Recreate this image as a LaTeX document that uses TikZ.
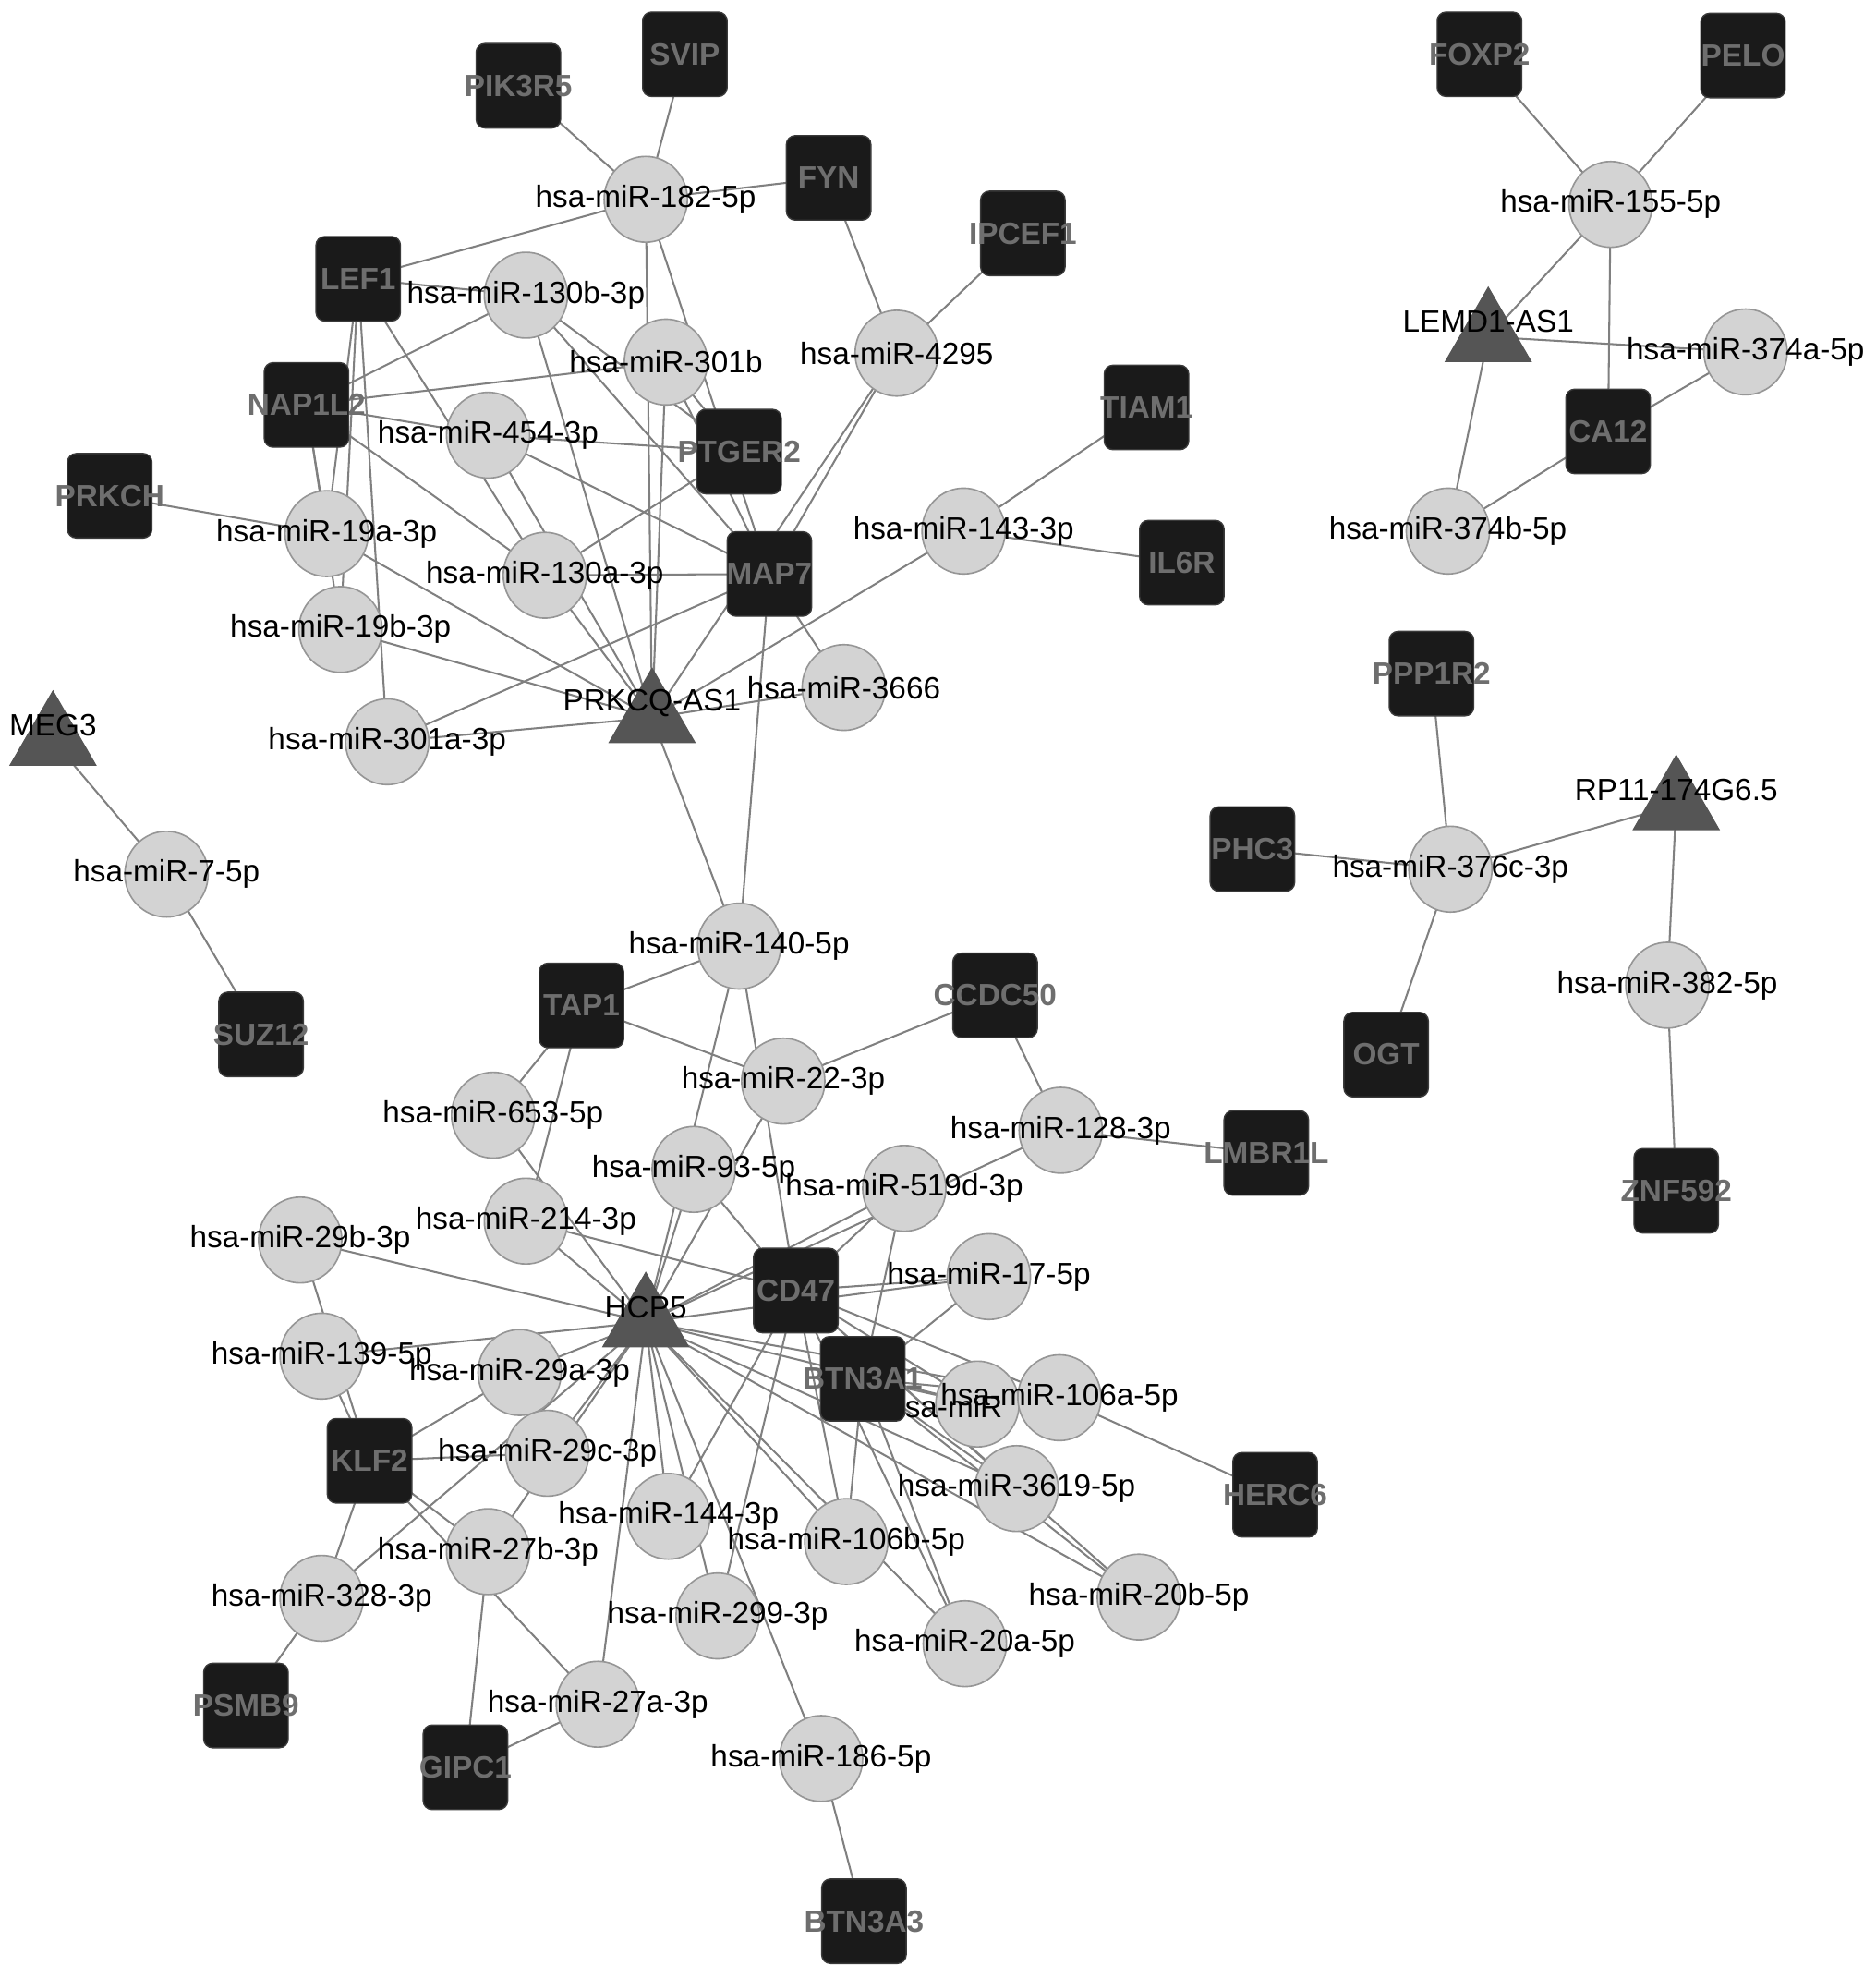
\documentclass[tikz,border=0pt]{standalone}
\usepackage{fontspec}
\setmainfont{Liberation Sans}
\usetikzlibrary{shapes.geometric}
\pgfdeclarelayer{bg}
\pgfsetlayers{bg,main}
\newcommand\lblfont{\fontsize{12.2}{14}\selectfont}
\definecolor{edgec}{HTML}{808080}
\definecolor{circf}{HTML}{D3D3D3}
\definecolor{circd}{HTML}{969696}
\definecolor{sqf}{HTML}{1A1A1A}
\definecolor{sqd}{HTML}{3A3A3A}
\definecolor{sqt}{HTML}{6E6E6E}
\definecolor{trif}{HTML}{555555}
\begin{document}
\begin{tikzpicture}[x=0.5pt,y=-0.5pt,
  circ/.style={ellipse,fill=circf,draw=circd,line width=0.6pt,minimum width=33pt,minimum height=34pt,inner sep=0pt},
  mir/.style={circ,label={[font=\lblfont,text=black,inner sep=0pt]center:#1}},
  gene/.style={rectangle,rounded corners=3.5pt,fill=sqf,draw=sqd,line width=0.5pt,minimum width=33.5pt,minimum height=33.5pt,inner sep=0pt,label={[font=\lblfont\bfseries,text=sqt,inner sep=0pt]center:#1}},
  lnc/.style={regular polygon,regular polygon sides=3,minimum size=39.3pt,inner sep=0pt,fill=trif,draw=trif,label={[font=\lblfont,text=black,inner sep=0pt,yshift=6pt]center:#1}},
  link/.style={draw=edgec,line width=0.75pt}]
\begin{pgfonlayer}{bg}
\fill[white] (0,0) rectangle (1487,1568);
\end{pgfonlayer}
\useasboundingbox (0,0) rectangle (1487,1568);

% lncRNAs
\node[lnc=PRKCQ-AS1] (prkcq) at (517,569) {};
\node[lnc=MEG3] (meg3) at (42,587) {};
\node[lnc=HCP5] (hcp5) at (512,1048) {};
\node[lnc=LEMD1-AS1] (lemd1) at (1180,267) {};
\node[lnc=RP11-174G6.5] (rp11) at (1329,638) {};

% hidden miRNA (drawn first)
\node[circ,label={[font=\lblfont,text=black,inner sep=0pt,xshift=-12.8pt,yshift=-1pt]center:hsa-miR}] (mhid) at (775,1113) {};

% miRNAs
\node[mir=hsa-miR-182-5p] (m182) at (512,158) {};
\node[mir=hsa-miR-130b-3p] (m130b) at (417,234) {};
\node[mir=hsa-miR-301b] (m301b) at (528,287) {};
\node[mir=hsa-miR-4295] (m4295) at (711,280) {};
\node[mir=hsa-miR-454-3p] (m454) at (387,345) {};
\node[mir=hsa-miR-19a-3p] (m19a) at (259,423) {};
\node[mir=hsa-miR-130a-3p] (m130a) at (432,456) {};
\node[mir=hsa-miR-143-3p] (m143) at (764,421) {};
\node[mir=hsa-miR-19b-3p] (m19b) at (270,499) {};
\node[mir=hsa-miR-3666] (m3666) at (669,545) {};
\node[mir=hsa-miR-301a-3p] (m301a) at (307,588) {};
\node[mir=hsa-miR-7-5p] (m7) at (132,693) {};
\node[mir=hsa-miR-140-5p] (m140) at (586,750) {};
\node[mir=hsa-miR-22-3p] (m22) at (621,857) {};
\node[mir=hsa-miR-653-5p] (m653) at (391,884) {};
\node[mir=hsa-miR-128-3p] (m128) at (841,896) {};
\node[mir=hsa-miR-93-5p] (m93) at (550,927) {};
\node[mir=hsa-miR-519d-3p] (m519d) at (717,942) {};
\node[mir=hsa-miR-214-3p] (m214) at (417,968) {};
\node[mir=hsa-miR-29b-3p] (m29b) at (238,983) {};
\node[mir=hsa-miR-17-5p] (m17) at (784,1012) {};
\node[mir=hsa-miR-139-5p] (m139) at (255,1075) {};
\node[mir=hsa-miR-29a-3p] (m29a) at (412,1088) {};
\node[mir=hsa-miR-106a-5p] (m106a) at (840,1108) {};
\node[mir=hsa-miR-29c-3p] (m29c) at (434,1152) {};
\node[mir=hsa-miR-3619-5p] (m3619) at (806,1180) {};
\node[mir=hsa-miR-144-3p] (m144) at (530,1202) {};
\node[mir=hsa-miR-27b-3p] (m27b) at (387,1230) {};
\node[mir=hsa-miR-106b-5p] (m106b) at (671,1222) {};
\node[mir=hsa-miR-20b-5p] (m20b) at (903,1266) {};
\node[mir=hsa-miR-328-3p] (m328) at (255,1267) {};
\node[mir=hsa-miR-299-3p] (m299) at (569,1281) {};
\node[mir=hsa-miR-20a-5p] (m20a) at (765,1303) {};
\node[mir=hsa-miR-27a-3p] (m27a) at (474,1351) {};
\node[mir=hsa-miR-186-5p] (m186) at (651,1394) {};
\node[mir=hsa-miR-155-5p] (m155) at (1277,162) {};
\node[mir=hsa-miR-374a-5p] (m374a) at (1384,279) {};
\node[mir=hsa-miR-374b-5p] (m374b) at (1148,421) {};
\node[mir=hsa-miR-376c-3p] (m376c) at (1150,689) {};
\node[mir=hsa-miR-382-5p] (m382) at (1322,781) {};

% mRNAs
\node[gene=PIK3R5] (pik3r5) at (411,68) {};
\node[gene=SVIP] (svip) at (543,43) {};
\node[gene=FYN] (fyn) at (657,141) {};
\node[gene=IPCEF1] (ipcef1) at (811,185) {};
\node[gene=LEF1] (lef1) at (284,221) {};
\node[gene=NAP1L2] (nap1l2) at (243,321) {};
\node[gene=PTGER2] (ptger2) at (586,358) {};
\node[gene=MAP7] (map7) at (610,455) {};
\node[gene=TIAM1] (tiam1) at (909,323) {};
\node[gene=IL6R] (il6r) at (937,446) {};
\node[gene=PRKCH] (prkch) at (87,393) {};
\node[gene=SUZ12] (suz12) at (207,820) {};
\node[gene=TAP1] (tap1) at (461,797) {};
\node[gene=CCDC50] (ccdc50) at (789,789) {};
\node[gene=LMBR1L] (lmbr1l) at (1004,914) {};
\node[gene=CD47] (cd47) at (631,1023) {};
\node[gene=BTN3A1] (btn3a1) at (684,1093) {};
\node[gene=KLF2] (klf2) at (293,1158) {};
\node[gene=HERC6] (herc6) at (1011,1185) {};
\node[gene=PSMB9] (psmb9) at (195,1352) {};
\node[gene=GIPC1] (gipc1) at (369,1401) {};
\node[gene=BTN3A3] (btn3a3) at (685,1523) {};
\node[gene=FOXP2] (foxp2) at (1173,43) {};
\node[gene=PELO] (pelo) at (1382,44) {};
\node[gene=CA12] (ca12) at (1275,342) {};
\node[gene=PPP1R2] (ppp1r2) at (1135,534) {};
\node[gene=PHC3] (phc3) at (993,673) {};
\node[gene=OGT] (ogt) at (1099,836) {};
\node[gene=ZNF592] (znf592) at (1329,944) {};

\begin{pgfonlayer}{bg}
\foreach \a/\b in {
 m182/pik3r5, m182/svip, m182/fyn, m182/lef1, m182/prkcq, m182/map7,
 m130b/lef1, m130b/nap1l2, m130b/ptger2, m130b/map7, m130b/prkcq,
 m301b/nap1l2, m301b/ptger2, m301b/map7, m301b/prkcq,
 m4295/ipcef1, m4295/fyn, m4295/map7, m4295/prkcq,
 m454/nap1l2, m454/ptger2, m454/map7, m454/prkcq,
 m19a/prkch, m19a/lef1, m19a/nap1l2, m19a/prkcq,
 m19b/lef1, m19b/nap1l2, m19b/prkcq,
 m130a/lef1, m130a/nap1l2, m130a/ptger2, m130a/map7, m130a/prkcq,
 m143/tiam1, m143/il6r, m143/prkcq,
 m3666/map7, m3666/prkcq,
 m301a/lef1, m301a/map7, m301a/prkcq,
 m140/prkcq, m140/map7, m140/tap1, m140/hcp5, m140/cd47,
 m22/tap1, m22/ccdc50, m22/hcp5,
 m653/tap1, m653/hcp5,
 m128/ccdc50, m128/lmbr1l, m128/hcp5,
 m93/hcp5, m93/cd47,
 m519d/hcp5, m519d/cd47, m519d/btn3a1,
 m214/tap1, m214/hcp5, m214/cd47,
 m29b/hcp5, m29b/klf2,
 m17/hcp5, m17/cd47, m17/btn3a1,
 m139/hcp5, m139/klf2,
 m29a/hcp5, m29a/klf2,
 mhid/hcp5, mhid/cd47, mhid/btn3a1,
 m106a/hcp5, m106a/cd47, m106a/btn3a1, m106a/herc6,
 m29c/hcp5, m29c/klf2,
 m3619/hcp5, m3619/cd47, m3619/btn3a1,
 m144/hcp5, m144/cd47,
 m27b/hcp5, m27b/klf2, m27b/gipc1,
 m106b/hcp5, m106b/cd47, m106b/btn3a1,
 m20b/hcp5, m20b/cd47, m20b/btn3a1,
 m328/hcp5, m328/klf2, m328/psmb9,
 m299/hcp5, m299/cd47,
 m20a/hcp5, m20a/cd47, m20a/btn3a1,
 m27a/hcp5, m27a/klf2, m27a/gipc1,
 m186/hcp5, m186/btn3a3,
 m155/foxp2, m155/pelo, m155/lemd1, m155/ca12,
 m374a/lemd1, m374a/ca12,
 m374b/lemd1, m374b/ca12,
 m376c/ppp1r2, m376c/phc3, m376c/ogt, m376c/rp11,
 m382/rp11, m382/znf592,
 m7/meg3, m7/suz12}
 \draw[link] (\a.center) -- (\b.center);
\end{pgfonlayer}
\end{tikzpicture}
\end{document}
